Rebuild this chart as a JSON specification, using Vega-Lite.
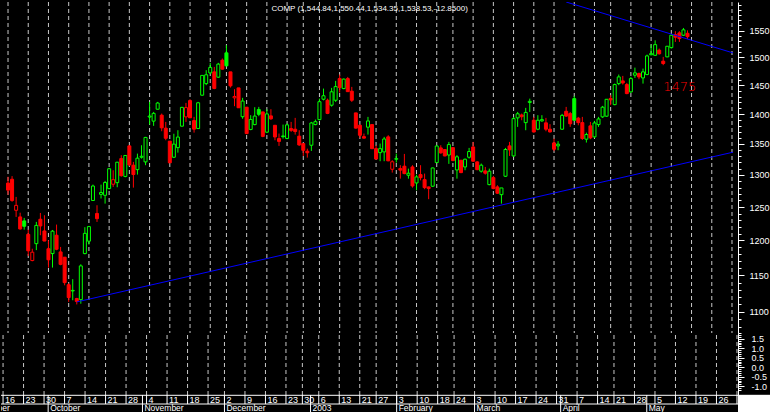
{
  "$schema": "https://vega.github.io/schema/vega-lite/v6.json",
  "background": "#000000",
  "padding": 0,
  "spacing": 0,
  "bounds": "flush",
  "config": {
    "view": {"stroke": null},
    "text": {"font": "Liberation Sans, sans-serif"}
  },
  "datasets": {
    "ohlc": [
      {"i":0,"open":1287,"high":1297,"low":1269,"close":1276},
      {"i":1,"open":1293,"high":1298,"low":1258,"close":1260},
      {"i":2,"open":1245,"high":1265.5,"low":1235,"close":1252.5},
      {"i":3,"open":1235,"high":1241.4,"low":1216,"close":1217},
      {"i":4,"open":1229,"high":1233.5,"low":1216,"close":1221},
      {"i":5,"open":1209,"high":1216,"low":1177.6,"close":1185},
      {"i":6,"open":1171,"high":1188,"low":1170,"close":1183},
      {"i":7,"open":1195.4,"high":1227.5,"low":1186,"close":1222.3},
      {"i":8,"open":1231.5,"high":1241,"low":1207.7,"close":1221.5},
      {"i":9,"open":1214,"high":1237.5,"low":1199,"close":1199.2},
      {"i":10,"open":1188,"high":1200.3,"low":1161,"close":1172},
      {"i":11,"open":1181,"high":1215.5,"low":1161,"close":1213.7},
      {"i":12,"open":1207.7,"high":1223.5,"low":1185.9,"close":1187.3},
      {"i":13,"open":1183.4,"high":1190.6,"low":1164.3,"close":1165.6},
      {"i":14,"open":1175.8,"high":1176,"low":1136.2,"close":1139.9},
      {"i":15,"open":1137,"high":1139,"low":1113.4,"close":1119.4},
      {"i":16,"open":1128.4,"high":1144.7,"low":1115.7,"close":1129.2},
      {"i":17,"open":1118,"high":1119,"low":1110,"close":1114.1},
      {"i":18,"open":1116.5,"high":1165.7,"low":1111,"close":1163.4},
      {"i":19,"open":1181,"high":1219.6,"low":1180,"close":1210.5},
      {"i":20,"open":1199,"high":1221.5,"low":1194,"close":1220.5},
      {"i":21,"open":1260,"high":1284.6,"low":1259.4,"close":1282.4},
      {"i":22,"open":1240.2,"high":1252.7,"low":1227.5,"close":1232.4},
      {"i":23,"open":1269.5,"high":1284.6,"low":1263,"close":1272.3},
      {"i":24,"open":1268,"high":1290.4,"low":1255.2,"close":1287.9},
      {"i":25,"open":1278.4,"high":1311,"low":1277.4,"close":1309.7},
      {"i":26,"open":1285.2,"high":1307.3,"low":1281,"close":1292.4},
      {"i":27,"open":1287.7,"high":1320.7,"low":1280.5,"close":1320.2},
      {"i":28,"open":1326,"high":1331.5,"low":1297.2,"close":1298.7},
      {"i":29,"open":1297.5,"high":1331.5,"low":1296.2,"close":1331.1},
      {"i":30,"open":1346.7,"high":1347.8,"low":1314.2,"close":1315.8},
      {"i":31,"open":1315.4,"high":1320.7,"low":1279.9,"close":1300.5},
      {"i":32,"open":1308.3,"high":1334.1,"low":1300.4,"close":1326.7},
      {"i":33,"open":1328.2,"high":1347.8,"low":1326,"close":1329.8},
      {"i":34,"open":1320.7,"high":1361.6,"low":1315.4,"close":1360.7},
      {"i":35,"open":1395,"high":1420.9,"low":1382.2,"close":1396.5},
      {"i":36,"open":1388,"high":1403.7,"low":1380,"close":1401.2},
      {"i":37,"open":1408.3,"high":1420.9,"low":1407.7,"close":1419},
      {"i":38,"open":1398.1,"high":1400.8,"low":1371,"close":1376.7},
      {"i":39,"open":1376.1,"high":1386.7,"low":1356,"close":1359.3},
      {"i":40,"open":1354.5,"high":1354.5,"low":1319,"close":1319.2},
      {"i":41,"open":1328.2,"high":1366.8,"low":1327,"close":1349.6},
      {"i":42,"open":1343.9,"high":1372.7,"low":1335.7,"close":1361.3},
      {"i":43,"open":1379.5,"high":1412.3,"low":1379,"close":1411.5},
      {"i":44,"open":1395.2,"high":1419.2,"low":1386.7,"close":1411.1},
      {"i":45,"open":1423.2,"high":1425.6,"low":1393.5,"close":1393.7},
      {"i":46,"open":1388.9,"high":1395.2,"low":1368.7,"close":1374.5},
      {"i":47,"open":1375.5,"high":1420.9,"low":1375,"close":1419.4},
      {"i":48,"open":1432.6,"high":1468,"low":1432,"close":1467.6},
      {"i":49,"open":1453,"high":1477,"low":1450.2,"close":1468.7},
      {"i":50,"open":1472.1,"high":1490.2,"low":1469.8,"close":1481.9},
      {"i":51,"open":1473.9,"high":1482.9,"low":1443.1,"close":1444.4},
      {"i":52,"open":1464.4,"high":1490.2,"low":1463,"close":1487.9},
      {"i":53,"open":1495.1,"high":1498.1,"low":1478,"close":1478.8},
      {"i":54,"open":1508.5,"high":1522.6,"low":1484.1,"close":1484.8},
      {"i":55,"open":1473.9,"high":1473.9,"low":1446,"close":1449},
      {"i":56,"open":1428,"high":1443.1,"low":1413.5,"close":1430.4},
      {"i":57,"open":1445.4,"high":1445.4,"low":1410.6,"close":1410.8},
      {"i":58,"open":1395.5,"high":1428,"low":1392,"close":1422.4},
      {"i":59,"open":1411.8,"high":1411.8,"low":1366.1,"close":1367.1},
      {"i":60,"open":1374,"high":1398.1,"low":1372.7,"close":1390.8},
      {"i":61,"open":1382.2,"high":1411.8,"low":1381,"close":1396.6},
      {"i":62,"open":1407.7,"high":1412.3,"low":1396.4,"close":1399.6},
      {"i":63,"open":1403.7,"high":1403.7,"low":1361.1,"close":1362.4},
      {"i":64,"open":1369.4,"high":1408.3,"low":1368.7,"close":1400.3},
      {"i":65,"open":1396.9,"high":1408.3,"low":1390.1,"close":1392},
      {"i":66,"open":1381,"high":1381,"low":1356,"close":1361.5},
      {"i":67,"open":1358.8,"high":1367.1,"low":1346.7,"close":1354.1},
      {"i":68,"open":1362,"high":1382.2,"low":1358.8,"close":1363.1},
      {"i":69,"open":1359,"high":1383.9,"low":1357.8,"close":1381.7},
      {"i":70,"open":1375.5,"high":1386.7,"low":1369.9,"close":1372.5},
      {"i":71,"open":1374.4,"high":1393.5,"low":1365.4,"close":1370.5},
      {"i":72,"open":1362.8,"high":1372.7,"low":1346.7,"close":1348.3},
      {"i":73,"open":1350.5,"high":1350.5,"low":1330.3,"close":1339.5},
      {"i":74,"open":1338,"high":1342.2,"low":1327.6,"close":1335.5},
      {"i":75,"open":1347.8,"high":1386.7,"low":1338.5,"close":1384.9},
      {"i":76,"open":1382.2,"high":1390.6,"low":1381,"close":1387.1},
      {"i":77,"open":1390.6,"high":1426.6,"low":1389.5,"close":1421.3},
      {"i":78,"open":1425.6,"high":1444.2,"low":1423.6,"close":1431.6},
      {"i":79,"open":1423.8,"high":1426.6,"low":1399.9,"close":1401.1},
      {"i":80,"open":1415.2,"high":1445.4,"low":1412.8,"close":1438.5},
      {"i":81,"open":1423.8,"high":1457.8,"low":1420.9,"close":1447.7},
      {"i":82,"open":1461.9,"high":1469.1,"low":1437.2,"close":1446},
      {"i":83,"open":1444.2,"high":1461.9,"low":1443.1,"close":1461},
      {"i":84,"open":1461.9,"high":1464.9,"low":1438.4,"close":1438.8},
      {"i":85,"open":1439.6,"high":1447.2,"low":1420.9,"close":1423.8},
      {"i":86,"open":1402,"high":1402,"low":1375.5,"close":1376.2},
      {"i":87,"open":1381,"high":1382.2,"low":1359.9,"close":1364.3},
      {"i":88,"open":1362,"high":1367.1,"low":1358.8,"close":1359.5},
      {"i":89,"open":1377.8,"high":1395.2,"low":1365.4,"close":1388.3},
      {"i":90,"open":1382.2,"high":1382.2,"low":1342.1,"close":1342.1},
      {"i":91,"open":1342.2,"high":1347.8,"low":1325,"close":1325.3},
      {"i":92,"open":1335.7,"high":1350.5,"low":1321.8,"close":1342.2},
      {"i":93,"open":1336.9,"high":1361.6,"low":1321.8,"close":1358.1},
      {"i":94,"open":1361.6,"high":1364.4,"low":1321.8,"close":1322.4},
      {"i":95,"open":1308.9,"high":1323.4,"low":1303.6,"close":1320.9},
      {"i":96,"open":1325,"high":1334.1,"low":1319.6,"close":1326},
      {"i":97,"open":1310,"high":1315.4,"low":1294,"close":1307.5},
      {"i":98,"open":1313.8,"high":1333.6,"low":1301,"close":1302},
      {"i":99,"open":1299.4,"high":1309.9,"low":1294,"close":1302.6},
      {"i":100,"open":1312.6,"high":1315.4,"low":1279.9,"close":1282.5},
      {"i":101,"open":1287.2,"high":1300.4,"low":1275.8,"close":1296.7},
      {"i":102,"open":1300.4,"high":1315.4,"low":1291.3,"close":1295.5},
      {"i":103,"open":1292.4,"high":1302,"low":1277.4,"close":1279.9},
      {"i":104,"open":1281,"high":1281.5,"low":1262,"close":1278.4},
      {"i":105,"open":1282.1,"high":1311.5,"low":1281,"close":1311},
      {"i":106,"open":1319.6,"high":1347.8,"low":1319,"close":1346.5},
      {"i":107,"open":1343.4,"high":1347.8,"low":1334.1,"close":1335.3},
      {"i":108,"open":1340.7,"high":1341,"low":1329.8,"close":1330.3},
      {"i":109,"open":1331.8,"high":1353.3,"low":1317.5,"close":1348.9},
      {"i":110,"open":1343.9,"high":1344,"low":1321.8,"close":1322.8},
      {"i":111,"open":1307.8,"high":1331.5,"low":1294,"close":1328.9},
      {"i":112,"open":1323.4,"high":1323.5,"low":1302.6,"close":1303.6},
      {"i":113,"open":1312.6,"high":1326,"low":1307.3,"close":1325},
      {"i":114,"open":1328.2,"high":1343.4,"low":1326,"close":1337.5},
      {"i":115,"open":1345,"high":1353.3,"low":1320.7,"close":1321.8},
      {"i":116,"open":1320.7,"high":1321.8,"low":1307.3,"close":1308.3},
      {"i":117,"open":1305.8,"high":1318,"low":1303.6,"close":1315.4},
      {"i":118,"open":1306.3,"high":1312.6,"low":1300.4,"close":1302.6},
      {"i":119,"open":1284.6,"high":1309.9,"low":1283.6,"close":1305.8},
      {"i":120,"open":1295.6,"high":1298.3,"low":1277.4,"close":1278.4},
      {"i":121,"open":1281,"high":1283.6,"low":1270.1,"close":1271.2},
      {"i":122,"open":1269,"high":1279.4,"low":1255.2,"close":1279.4},
      {"i":123,"open":1297.8,"high":1343.4,"low":1296.7,"close":1340.8},
      {"i":124,"open":1346.7,"high":1353.3,"low":1330.3,"close":1340.3},
      {"i":125,"open":1330.3,"high":1395.2,"low":1328.7,"close":1392.3},
      {"i":126,"open":1393.5,"high":1403.7,"low":1378.3,"close":1400.5},
      {"i":127,"open":1398.5,"high":1400.8,"low":1389.5,"close":1395.5},
      {"i":128,"open":1385.5,"high":1410.6,"low":1372.7,"close":1402.8},
      {"i":129,"open":1420,"high":1426.6,"low":1403.7,"close":1421.9},
      {"i":130,"open":1389.5,"high":1395.2,"low":1368.7,"close":1369.8},
      {"i":131,"open":1374.4,"high":1398.1,"low":1372.7,"close":1389.5},
      {"i":132,"open":1388.5,"high":1398.1,"low":1386.7,"close":1390.6},
      {"i":133,"open":1385.1,"high":1393.5,"low":1371,"close":1374.4},
      {"i":134,"open":1374.4,"high":1382.9,"low":1368.7,"close":1369.9},
      {"i":135,"open":1351.6,"high":1358.8,"low":1338,"close":1341.2},
      {"i":136,"open":1346.7,"high":1354.5,"low":1339.6,"close":1349.5},
      {"i":137,"open":1374.4,"high":1400.3,"low":1373.3,"close":1397.8},
      {"i":138,"open":1404.8,"high":1412.3,"low":1395.2,"close":1396.6},
      {"i":139,"open":1400.8,"high":1403.7,"low":1378.3,"close":1383.5},
      {"i":140,"open":1426.6,"high":1431.3,"low":1388.4,"close":1389.5},
      {"i":141,"open":1393,"high":1395.2,"low":1381,"close":1385.5},
      {"i":142,"open":1385.5,"high":1395.2,"low":1356.5,"close":1358.9},
      {"i":143,"open":1357.8,"high":1368.7,"low":1352.2,"close":1365.5},
      {"i":144,"open":1380,"high":1386.7,"low":1357.8,"close":1359.9},
      {"i":145,"open":1361.6,"high":1388.4,"low":1359.9,"close":1384.9},
      {"i":146,"open":1382.2,"high":1395.2,"low":1378.3,"close":1391.7},
      {"i":147,"open":1395.2,"high":1414,"low":1393.5,"close":1411.8},
      {"i":148,"open":1396.4,"high":1425.6,"low":1395.2,"close":1425.5},
      {"i":149,"open":1427,"high":1432.6,"low":1415.2,"close":1424.5},
      {"i":150,"open":1416.2,"high":1453,"low":1415.2,"close":1451.3},
      {"i":151,"open":1453,"high":1469.1,"low":1450.2,"close":1464.9},
      {"i":152,"open":1457.8,"high":1466.7,"low":1451.3,"close":1454.2},
      {"i":153,"open":1451.3,"high":1454.2,"low":1434.3,"close":1435.4},
      {"i":154,"open":1438.4,"high":1464.9,"low":1436.6,"close":1461.9},
      {"i":155,"open":1468,"high":1481.6,"low":1463.1,"close":1472.1},
      {"i":156,"open":1470.9,"high":1472.6,"low":1460.8,"close":1464.9},
      {"i":157,"open":1463.1,"high":1479.8,"low":1453,"close":1473.9},
      {"i":158,"open":1469.1,"high":1505.3,"low":1468,"close":1502.9},
      {"i":159,"open":1505,"high":1523.7,"low":1504,"close":1507},
      {"i":160,"open":1504,"high":1531.7,"low":1502.8,"close":1523.7},
      {"i":161,"open":1513.4,"high":1516.4,"low":1505.3,"close":1506.8},
      {"i":162,"open":1493.3,"high":1501.1,"low":1486,"close":1489},
      {"i":163,"open":1501.1,"high":1520.7,"low":1500.6,"close":1520.7},
      {"i":164,"open":1518.2,"high":1542.4,"low":1516.4,"close":1541.3},
      {"i":165,"open":1542.4,"high":1548.9,"low":1528.8,"close":1537.5},
      {"i":166,"open":1545.7,"high":1548.9,"low":1528.8,"close":1535},
      {"i":167,"open":1541.3,"high":1555,"low":1540,"close":1551.4},
      {"i":168,"open":1544.84,"high":1550.44,"low":1534.35,"close":1538.53}
    ],
    "weeks": [
      {"i":0,"label":"16"},{"i":5,"label":"23"},{"i":10,"label":"30"},{"i":15,"label":"7"},
      {"i":20,"label":"14"},{"i":25,"label":"21"},{"i":30,"label":"28"},{"i":35,"label":"4"},
      {"i":40,"label":"11"},{"i":45,"label":"18"},{"i":50,"label":"25"},{"i":54,"label":"2"},
      {"i":59,"label":"9"},{"i":64,"label":"16"},{"i":69,"label":"23"},{"i":73,"label":"30"},
      {"i":77,"label":"6"},{"i":82,"label":"13"},{"i":87,"label":"21"},{"i":91,"label":"27"},
      {"i":96,"label":"3"},{"i":101,"label":"10"},{"i":106,"label":"18"},{"i":110,"label":"24"},
      {"i":115,"label":"3"},{"i":120,"label":"10"},{"i":125,"label":"17"},{"i":130,"label":"24"},
      {"i":135,"label":"31"},{"i":140,"label":"7"},{"i":145,"label":"14"},{"i":149,"label":"21"},
      {"i":154,"label":"28"},{"i":159,"label":"5"},{"i":164,"label":"12"},{"i":169,"label":"19"},
      {"i":174,"label":"26"},{"i":179,"label":""}
    ],
    "months": [
      {"i":-9,"label":"September"},{"i":11,"label":"October"},{"i":34,"label":"November"},
      {"i":54,"label":"December"},{"i":75,"label":"2003"},{"i":96,"label":"February"},
      {"i":115,"label":"March"},{"i":136,"label":"April"},{"i":157,"label":"May"}
    ],
    "trend": [
      {"line":"upper","i":138.0,"v":1605},
      {"line":"upper","i":179.25,"v":1508.4},
      {"line":"lower","i":17.0,"v":1113.4},
      {"line":"lower","i":179.25,"v":1336.4}
    ]
  },
  "vconcat": [
    {
      "width": 737,
      "height": 331,
      "layer": [
        {
          "data": {"name": "weeks"},
          "mark": {"type": "rule", "color": "#c8c8c8", "strokeDash": [4, 3], "strokeWidth": 1},
          "encoding": {
            "x": {"field": "i", "type": "quantitative", "scale": {"domain": [-0.5, 179.25], "nice": false, "zero": false}, "axis": null}
          }
        },
        {
          "data": {"name": "ohlc"},
          "transform": [{"window": [{"op": "lag", "field": "close", "as": "prev"}], "sort": [{"field": "i"}]}],
          "layer": [
            {
              "mark": {"type": "rule", "strokeWidth": 1},
              "encoding": {
                "x": {"field": "i", "type": "quantitative", "axis": null},
                "y": {
                  "field": "low", "type": "quantitative",
                  "scale": {"type": "log", "domain": [1072, 1605], "nice": false, "zero": false},
                  "axis": {
                    "orient": "right", "title": null, "grid": false,
                    "values": [1080,1090,1100,1110,1120,1130,1140,1150,1160,1170,1180,1190,1200,1210,1220,1230,1240,1250,1260,1270,1280,1290,1300,1310,1320,1330,1340,1350,1360,1370,1380,1390,1400,1410,1420,1430,1440,1450,1460,1470,1480,1490,1500,1510,1520,1530,1540,1550,1560,1570,1580,1590,1600],
                    "format": "d",
                    "labelExpr": "(datum.value % 50 === 0 && datum.value <= 1550) ? datum.label : ''",
                    "tickSize": {"condition": {"test": "datum.value % 50 === 0 && datum.value <= 1550", "value": 6}, "value": 3},
                    "labelPadding": 5,
                    "labelOverlap": false, "labelFlush": false, "labelBound": false,
                    "domainColor": "#ffffff", "tickColor": "#ffffff", "labelColor": "#ffffff",
                    "labelFont": "Liberation Sans, sans-serif",
                    "labelFontSize": 9
                  }
                },
                "y2": {"field": "high"},
                "color": {"condition": {"test": "datum.prev != null && datum.close > datum.prev", "value": "#00ff00"}, "value": "#ff0000"}
              }
            },
            {
              "mark": {"type": "bar", "width": 3, "strokeWidth": 1},
              "encoding": {
                "x": {"field": "i", "type": "quantitative", "axis": null},
                "y": {"field": "open", "type": "quantitative", "axis": {"title": null}},
                "y2": {"field": "close"},
                "fill": {"condition": [
                  {"test": "datum.close > datum.open", "value": "#000000"},
                  {"test": "datum.prev != null && datum.close > datum.prev", "value": "#00ff00"}
                ], "value": "#ff0000"},
                "stroke": {"condition": {"test": "datum.prev != null && datum.close > datum.prev", "value": "#00ff00"}, "value": "#ff0000"}
              }
            }
          ]
        },
        {
          "data": {"name": "trend"},
          "mark": {"type": "line", "color": "#0000ff", "strokeWidth": 1, "clip": true},
          "encoding": {
            "x": {"field": "i", "type": "quantitative", "axis": null},
            "y": {"field": "v", "type": "quantitative", "axis": {"title": null}},
            "detail": {"field": "line"}
          }
        },
        {
          "data": {"values": [{"i": 89.4, "v": 1591.6, "label": "COMP (1,544.84,1,550.44,1,534.35,1,538.53,-12.8500)"}]},
          "mark": {"type": "text", "color": "#ffffff", "fontSize": 8, "align": "center", "baseline": "middle"},
          "encoding": {
            "x": {"field": "i", "type": "quantitative", "axis": null},
            "y": {"field": "v", "type": "quantitative", "axis": {"title": null}},
            "text": {"field": "label"}
          }
        },
        {
          "data": {"values": [{"i": 166.1, "v": 1447.7, "label": "1475"}]},
          "mark": {"type": "text", "color": "#ff0000", "fontSize": 13, "font": "DejaVu Sans", "fontWeight": 200, "align": "center", "baseline": "middle"},
          "encoding": {
            "x": {"field": "i", "type": "quantitative", "axis": null},
            "y": {"field": "v", "type": "quantitative", "axis": {"title": null}},
            "text": {"field": "label"}
          }
        }
      ]
    },
    {
      "width": 737,
      "height": 62,
      "data": {"name": "weeks"},
      "mark": {"type": "rule", "color": "#c8c8c8", "strokeDash": [4, 3], "strokeWidth": 1},
      "encoding": {
        "x": {"field": "i", "type": "quantitative", "scale": {"domain": [-0.5, 179.25], "nice": false, "zero": false}, "axis": null},
        "y": {
          "datum": -1.46, "type": "quantitative",
          "scale": {"domain": [-1.46, 1.8], "nice": false, "zero": false},
          "axis": {
            "orient": "right", "title": null, "grid": false,
            "values": [-1.2,-1.1,-1.0,-0.9,-0.8,-0.7,-0.6,-0.5,-0.4,-0.3,-0.2,-0.1,0,0.1,0.2,0.3,0.4,0.5,0.6,0.7,0.8,0.9,1.0,1.1,1.2,1.3,1.4,1.5,1.6,1.7,1.8],
            "labelExpr": "(abs(datum.value * 2 - round(datum.value * 2)) < 0.001 && datum.value > -1.01 && datum.value < 1.51) ? replace(format(datum.value, '.1f'), '\u2212', '-') : ''",
            "tickSize": {"condition": {"test": "abs(datum.value * 2 - round(datum.value * 2)) < 0.001 && datum.value > -1.01 && datum.value < 1.51", "value": 6}, "value": 3},
            "labelPadding": 7,
            "labelOverlap": false, "labelFlush": false, "labelBound": false,
            "domainColor": "#ffffff", "tickColor": "#ffffff", "labelColor": "#ffffff",
            "labelFont": "Liberation Sans, sans-serif",
            "labelFontSize": 9
          }
        },
        "y2": {"datum": 1.8}
      }
    },
    {
      "width": 770,
      "height": 19,
      "layer": [
        {
          "data": {"values": [{"from": 179.25, "to": 187.3}]},
          "mark": {"type": "rect", "color": "#ffffff"},
          "encoding": {
            "x": {"field": "from", "type": "quantitative", "scale": {"domain": [-0.5, 187.3], "nice": false, "zero": false}, "axis": null},
            "x2": {"field": "to"},
            "y": {"datum": 0, "type": "quantitative", "scale": {"domain": [0, 19], "nice": false, "zero": false}, "axis": null},
            "y2": {"datum": 19}
          }
        },
        {
          "data": {"values": [{"row": 18.7}, {"row": 10}]},
          "mark": {"type": "rule", "color": "#ffffff", "strokeWidth": 1},
          "encoding": {
            "y": {"field": "row", "type": "quantitative", "axis": null}
          }
        },
        {
          "data": {"name": "weeks"},
          "mark": {"type": "rule", "color": "#ffffff", "strokeWidth": 1, "clip": true},
          "encoding": {
            "x": {"field": "i", "type": "quantitative", "axis": null},
            "y": {"datum": 10, "type": "quantitative", "axis": null},
            "y2": {"datum": 19}
          }
        },
        {
          "data": {"name": "months"},
          "mark": {"type": "rule", "color": "#ffffff", "strokeWidth": 1, "clip": true},
          "encoding": {
            "x": {"field": "i", "type": "quantitative", "axis": null},
            "y": {"datum": 0, "type": "quantitative", "axis": null},
            "y2": {"datum": 19}
          }
        },
        {
          "data": {"name": "weeks"},
          "mark": {"type": "text", "color": "#ffffff", "fontSize": 9, "align": "left", "baseline": "middle", "dx": 2, "clip": true},
          "encoding": {
            "x": {"field": "i", "type": "quantitative", "axis": null},
            "y": {"datum": 14.5, "type": "quantitative", "axis": null},
            "text": {"field": "label"}
          }
        },
        {
          "data": {"name": "months"},
          "mark": {"type": "text", "color": "#ffffff", "fontSize": 8.5, "align": "left", "baseline": "middle", "dx": 2, "clip": true},
          "encoding": {
            "x": {"field": "i", "type": "quantitative", "axis": null},
            "y": {"datum": 5.6, "type": "quantitative", "axis": null},
            "text": {"field": "label"}
          }
        }
      ]
    }
  ]
}
